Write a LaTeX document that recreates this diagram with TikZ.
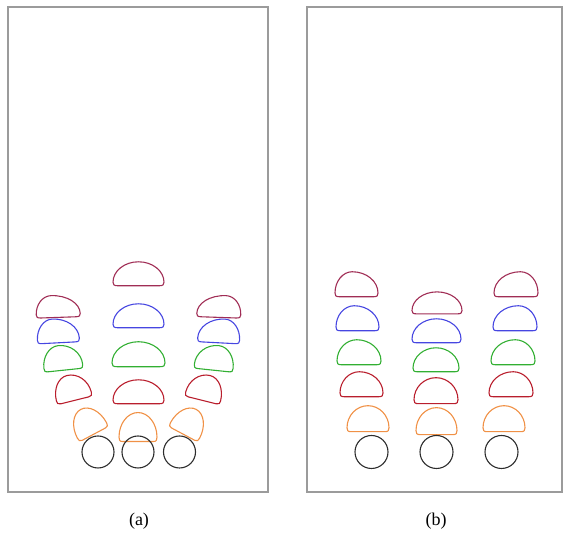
\documentclass[tikz,border=0pt]{standalone}
\usepackage{fontspec}
\setmainfont{Liberation Serif}
\definecolor{cmaroon}{RGB}{160,45,85}
\definecolor{cblue}{RGB}{70,70,225}
\definecolor{cgreen}{RGB}{50,175,50}
\definecolor{cred}{RGB}{185,30,45}
\definecolor{corange}{RGB}{240,145,70}
\definecolor{cblack}{RGB}{45,45,45}
\definecolor{cframe}{RGB}{155,155,155}
\tikzset{
  outline/.style={line width=1.1pt, line join=round},
  panel/.style={draw=cframe, line width=1.2pt},
  caption/.style={font=\fontsize{18}{20}\selectfont, inner sep=0pt},
  bubble/.style={outline, draw=cblack}
}
% \bean{cx}{cy}{width}{height}{peak shift}{rotation}{colour}
% cx, cy: centre of the shape, measured from the top-left corner
\newcommand\bean[7]{%
  \begin{scope}[shift={(#1,534-#2)}, rotate=#6, xscale=#3/2, yscale=#4]
    \draw[outline, draw=#7]
      (-0.8,-0.45) -- (0.8,-0.45)
      .. controls (0.97,-0.45) and (1,-0.4) .. (1,-0.3)
      .. controls (1,0.17) and ({0.55+0.45*(#5)},0.55) .. (#5,0.55)
      .. controls ({-0.55+0.45*(#5)},0.55) and (-1,0.17) .. (-1,-0.3)
      .. controls (-1,-0.4) and (-0.97,-0.45) .. (-0.8,-0.45) -- cycle;
  \end{scope}}
\begin{document}
\begin{tikzpicture}[x=1pt,y=1pt]
  \useasboundingbox (0,0) rectangle (563,534);
  % frames
  \draw[panel] (8,534-7) rectangle (268,534-492);
  \draw[panel] (307,534-7) rectangle (562,534-492);

  % ---- panel (a) ----
  % centre column
  \bean{138.5}{275}{51}{24}{0}{0}{cmaroon}
  \bean{138.5}{317}{51}{24}{0}{0}{cblue}
  \bean{138.5}{355.5}{53}{25}{0}{0}{cgreen}
  \bean{138.5}{393}{51}{24}{0}{0}{cred}
  \bean{138}{428.5}{38}{29}{0}{0}{corange}
  % left column
  \bean{58}{307.5}{44}{22}{-0.3}{2}{cmaroon}
  \bean{58}{332}{42}{24}{-0.25}{3}{cblue}
  \bean{62.5}{359}{39}{25}{-0.15}{6}{cgreen}
  \bean{72}{389}{36}{26}{-0.1}{14}{cred}
  \bean{88}{423}{33}{28}{0}{28}{corange}
  % right column
  \bean{219}{307.5}{44}{22}{0.3}{-2}{cmaroon}
  \bean{219}{332}{42}{24}{0.25}{-3}{cblue}
  \bean{214.5}{359}{39}{25}{0.15}{-6}{cgreen}
  \bean{205}{389}{36}{26}{0.1}{-14}{cred}
  \bean{189}{423}{33}{28}{0}{-28}{corange}
  % bubbles
  \draw[bubble] (98,534-452) circle (16);
  \draw[bubble] (138,534-452) circle (16);
  \draw[bubble] (179.5,534-452) circle (16);

  % ---- panel (b) ----
  % left column
  \bean{356.5}{285.5}{43}{25}{-0.2}{0}{cmaroon}
  \bean{357.5}{319.5}{43}{25}{-0.15}{0}{cblue}
  \bean{359}{353.5}{44}{25}{-0.1}{0}{cgreen}
  \bean{361.5}{385.5}{43}{25}{-0.1}{0}{cred}
  \bean{368}{420}{42}{26}{0}{0}{corange}
  % middle column
  \bean{437}{304}{50}{22}{0}{0}{cmaroon}
  \bean{436.5}{332}{49}{24}{0}{0}{cblue}
  \bean{436}{361}{46}{24}{0}{0}{cgreen}
  \bean{436}{392}{44}{26}{0}{0}{cred}
  \bean{436.5}{422.5}{41}{27}{0}{0}{corange}
  % right column
  \bean{516}{285.5}{44}{25}{0.2}{0}{cmaroon}
  \bean{515}{319.5}{44}{25}{0.15}{0}{cblue}
  \bean{513}{353.5}{44}{25}{0.1}{0}{cgreen}
  \bean{511}{385.5}{44}{25}{0.1}{0}{cred}
  \bean{504}{420}{42}{26}{0}{0}{corange}
  % bubbles
  \draw[bubble] (371.5,534-452) circle (16.5);
  \draw[bubble] (436.5,534-452) circle (16.5);
  \draw[bubble] (501.5,534-452) circle (16.5);

  % captions
  \node[caption] (capa) at (139,534-521) {(a)};
  \node[caption] (capb) at (436,534-521) {(b)};
\end{tikzpicture}
\end{document}
